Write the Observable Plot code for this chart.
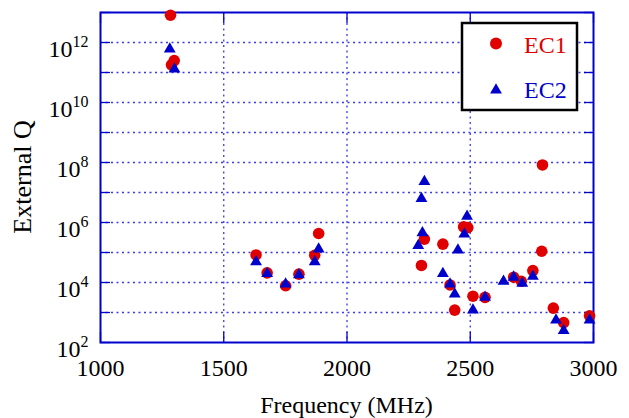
<!DOCTYPE html>
<html><head><meta charset="utf-8">
<script src="https://cdn.jsdelivr.net/npm/d3@7"></script>
<script src="https://cdn.jsdelivr.net/npm/@observablehq/plot@0.6"></script>
<style>body{margin:0;background:#fff}#chart{width:629px;height:418px}</style>
</head><body><div id="chart"></div>
<script>
// ---- data ----
const seriesNames = ["EC1", "EC2"];
const ec1Freq = [1284, 1299, 1288, 1631, 1676, 1751, 1805, 1869, 1885, 2314, 2302, 2389, 2418, 2437, 2473, 2490, 2511, 2560, 2676, 2707, 2754, 2790, 2793, 2837, 2879, 2984];
const ec1Q    = [8.1e12, 2.5e11, 1.8e11, 8.3e4, 2.1e4, 7.8e3, 1.9e4, 8.1e4, 4.3e5, 2.8e5, 3.7e4, 1.9e5, 8.3e3, 1.2e3, 7.2e5, 6.8e5, 3.5e3, 3.2e3, 1.5e4, 1.1e4, 2.5e4, 1.1e5, 8.3e7, 1.4e3, 4.6e2, 7.8e2];
const ec2Freq = [1281, 1300, 1631, 1676, 1751, 1805, 1869, 1885, 2314, 2302, 2306, 2289, 2389, 2418, 2437, 2450, 2487, 2476, 2511, 2560, 2635, 2676, 2711, 2754, 2848, 2879, 2984];
const ec2Q    = [6.0e11, 1.3e11, 4.9e4, 2.0e4, 8.9e3, 1.8e4, 4.9e4, 1.3e5, 2.3e7, 6.3e6, 4.5e5, 1.7e5, 2.0e4, 8.9e3, 4.1e3, 1.2e5, 1.6e6, 4.1e5, 1.2e3, 3.2e3, 1.1e4, 1.5e4, 9.3e3, 1.6e4, 5.6e2, 2.5e2, 5.6e2];

const xTicks = [1000, 1500, 2000, 2500, 3000];
const xGrid = [1500, 2000, 2500];
const yDecades = [1e2, 1e3, 1e4, 1e5, 1e6, 1e7, 1e8, 1e9, 1e10, 1e11, 1e12, 1e13];
const yGrid = [1e3, 1e4, 1e5, 1e6, 1e7, 1e8, 1e9, 1e10, 1e11, 1e12];
const yLabelValues = [1e2, 1e4, 1e6, 1e8, 1e10, 1e12];
const yLabelExponents = ["2", "4", "6", "8", "10", "12"];
const xTitle = "Frequency (MHz)";
const yTitle = "External Q";

const FONT = "'Liberation Serif', 'Times New Roman', serif";
const RED = "#e00000", BLUE = "#0000cc", GRID = "#3a3ae6";

const ec1 = ec1Freq.map((f, i) => ({f, q: ec1Q[i]}));
const ec2 = ec2Freq.map((f, i) => ({f, q: ec2Q[i]}));
const hidden = () => "";

const plot = Plot.plot({
  width: 629, height: 418,
  marginLeft: 100, marginRight: 36, marginTop: 12, marginBottom: 76,
  style: {fontFamily: FONT, fontSize: "24px", background: "#fff", color: "#000"},
  x: {domain: [1000, 3000]},
  y: {type: "log", domain: [1e2, 1e13]},
  marks: [
    Plot.ruleY(yGrid, {y: d => d, stroke: GRID, strokeDasharray: "2,3.5", strokeWidth: 1.3}),
    Plot.ruleX(xGrid, {x: d => d, stroke: GRID, strokeDasharray: "2,3.5", strokeWidth: 1.3}),
    Plot.axisY(yDecades, {anchor: "left", tickSize: 10, dx: 10, tickFormat: hidden, stroke: BLUE, strokeWidth: 1.3, label: null}),
    Plot.axisY(yDecades, {anchor: "right", tickSize: 10, dx: -10, tickFormat: hidden, stroke: BLUE, strokeWidth: 1.3, label: null}),
    Plot.axisX(xTicks, {anchor: "bottom", tickSize: 10, dy: -10, tickFormat: hidden, stroke: BLUE, strokeWidth: 1.3, label: null}),
    Plot.axisX(xTicks, {anchor: "top", tickSize: 10, dy: 10, tickFormat: hidden, stroke: BLUE, strokeWidth: 1.3, label: null}),
    Plot.axisY(yLabelValues, {anchor: "left", tickSize: 0, tickPadding: 12, fontSize: 24, label: null,
      tickFormat: d => "10^" + yLabelExponents[yLabelValues.indexOf(d)]}),
    Plot.axisX(xTicks, {anchor: "bottom", tickSize: 0, tickPadding: 16, fontSize: 24, label: null, tickFormat: d => String(d)}),
    Plot.frame({stroke: BLUE, strokeWidth: 2}),
    Plot.dot(ec1, {x: "f", y: "q", r: 5.8, fill: RED, symbol: "circle"}),
    Plot.dot(ec2, {x: "f", y: "q", r: 4.4, fill: BLUE, symbol: "triangle"})
  ]
});

const svg = d3.select(plot);

// superscript exponents on the y tick labels
svg.selectAll("text").each(function () {
  const m = (this.textContent || "").match(/^10\^(\d+)$/);
  if (!m) return;
  const s = d3.select(this);
  s.text(null).attr("dy", 7.3);
  s.append("tspan").text("10");
  s.append("tspan").attr("font-size", 16).attr("dy", -10.5).text(m[1]);
});

// axis titles, placed from the scales' ranges
const xr = plot.scale("x").range, yr = plot.scale("y").range;
const cx = (xr[0] + xr[1]) / 2, cy = (yr[0] + yr[1]) / 2;
svg.append("text").attr("x", cx).attr("y", 413).attr("text-anchor", "middle")
  .attr("font-size", 24).text(xTitle);
svg.append("text").attr("transform", `translate(31,${cy}) rotate(-90)`).attr("text-anchor", "middle")
  .attr("font-size", 26).text(yTitle);

// legend box
const lg = svg.append("g").attr("font-size", 24).attr("text-anchor", "start");
lg.append("rect").attr("x", 462).attr("y", 23).attr("width", 115).attr("height", 87)
  .attr("fill", "#fff").attr("stroke", "#000").attr("stroke-width", 2.5);
lg.append("circle").attr("cx", 496).attr("cy", 43.5).attr("r", 6).attr("fill", RED);
lg.append("path").attr("d", d3.symbol(d3.symbolTriangle, 4.4 * 4.4 * Math.PI)())
  .attr("transform", "translate(496,90)").attr("fill", BLUE);
lg.append("text").attr("x", 524).attr("y", 52.5).attr("fill", RED).text(seriesNames[0]);
lg.append("text").attr("x", 524).attr("y", 97.5).attr("fill", BLUE).text(seriesNames[1]);

// force the serif face on every text
svg.selectAll("text").style("font-family", FONT);

document.getElementById("chart").appendChild(plot);
</script>
</body></html>
